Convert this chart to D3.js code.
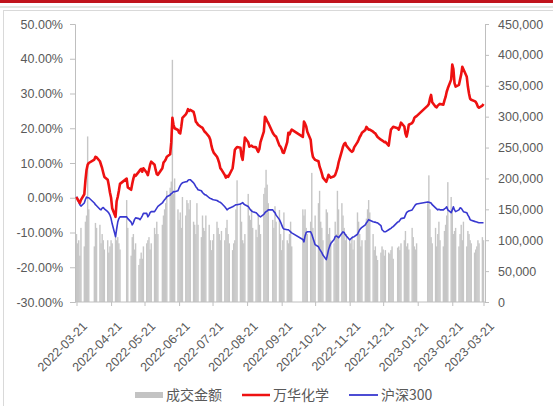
<!DOCTYPE html>
<html>
<head>
<meta charset="utf-8">
<title></title>
<script src="https://d3js.org/d3.v7.min.js"></script>
<style type="text/css">
  body { margin: 0; background: #fff; }
  text { font-family: "Liberation Sans", Arial, "Noto Sans CJK SC", sans-serif; fill: #595959; }
  .legend text { font-family: "Noto Sans CJK SC", sans-serif; font-size: 14px; }
</style>
</head>
<body>
<script type="text/javascript">

var width = 553,
    height = 406;

// non-trading weekdays in the period
var holidays = ["2022-04-04","2022-04-05","2022-05-02","2022-05-03","2022-05-04",
  "2022-06-03","2022-09-12","2022-10-03","2022-10-04","2022-10-05","2022-10-06",
  "2022-10-07","2023-01-02","2023-01-23","2023-01-24","2023-01-25","2023-01-26",
  "2023-01-27"];

var tickDates = ["2022-03-21","2022-04-21","2022-05-21","2022-06-21","2022-07-21",
  "2022-08-21","2022-09-21","2022-10-21","2022-11-21","2022-12-21","2023-01-21",
  "2023-02-21","2023-03-21"];

var pctTicks = [50, 40, 30, 20, 10, 0, -10, -20, -30];
var volTicks = [0, 50000, 100000, 150000, 200000, 250000, 300000, 350000, 400000, 450000];

// 万华化学 cumulative return (%), one row per week
var wanhua = [
  0.2, -0.5, -1.0, -1.5, -0.6,
  1.0, 5.0, 8.0, 9.5, 10.0,
  11.0, 11.8, 11.6,
  10.5, 9.5, 8.5, 7.2, 6.0,
  5.2, 3.5, 1.5, 0.0, -3.0,
  -5.5, -1.0, 0.3, 2.0, 4.0,
  5.5, 3.0,
  2.3, 4.0, 5.5, 6.6, 6.3,
  7.5, 8.0, 8.3, 7.5, 8.5,
  7.2, 6.5, 8.0, 9.5, 10.4,
  9.5, 8.0, 6.8, 6.6,
  8.5, 10.1, 10.5, 11.0, 11.8,
  12.5, 16.0, 23.0, 21.0, 20.0,
  19.5, 18.7, 18.5, 20.5, 23.0,
  24.0, 24.6, 25.5, 25.0, 25.3,
  24.7, 23.5, 21.9, 21.5, 21.0,
  20.3, 20.1, 19.5, 19.0, 18.7,
  17.5, 16.7, 15.0, 13.8, 13.0,
  11.8, 11.0, 10.0, 8.5, 8.1,
  6.5, 5.8, 6.3, 6.0, 6.6,
  8.5, 11.0, 13.8, 14.2, 14.6,
  14.4, 12.0, 10.9, 14.0, 17.3,
  16.0, 14.7, 14.9, 15.0, 14.7,
  14.5, 13.8, 13.2, 14.0, 16.0,
  19.0, 23.3, 22.8, 22.0, 21.5,
  18.7, 18.2, 17.8, 17.6,
  15.0, 14.7, 14.0, 13.0, 12.9,
  16.0, 18.7, 18.2, 19.0, 19.6,
  17.5, 21.9, 21.3, 20.5, 19.0,
  16.7, 13.5, 11.8, 11.3, 10.9,
  10.5, 9.0, 8.1, 7.0, 5.8,
  4.6, 5.5, 6.6, 6.2, 5.8,
  6.2, 6.6, 7.5, 8.5, 10.1,
  13.5, 14.7, 15.5, 15.8, 15.0,
  13.8, 13.5, 13.2, 13.5, 14.5,
  16.0, 16.7, 17.5, 18.0, 18.7,
  19.5, 20.4, 20.0, 19.6, 19.6,
  19.0, 18.7, 18.5, 18.0, 17.5,
  16.7, 16.5, 16.3, 16.0, 16.1,
  15.0, 17.5, 19.6, 20.0, 20.4,
  20.0, 19.6, 20.5, 21.6,
  20.5, 18.5, 17.6, 19.0, 21.0,
  21.5, 22.0, 23.0, 23.3, 23.5,
  26.5, 27.0, 28.5, 29.6, 27.5,
  26.2, 26.0, 26.5, 26.8, 27.0,
  26.8, 28.0, 29.0, 30.5, 31.5,
  34.0, 38.3, 37.0, 33.0, 32.0,
  32.5, 34.0, 35.5, 37.7, 37.0,
  34.8, 32.0, 30.0, 28.5, 28.2,
  27.8, 27.6, 27.0, 26.2, 25.9,
  26.5, 27.0
];

// 沪深300 cumulative return (%)
var hs300 = [
  0.3, -0.3, -1.2, -2.0, -2.4,
  -1.5, -0.5, 0.2, 0.0, 0.0,
  -1.5, -2.0, -2.3,
  -3.3, -3.5, -3.0, -2.8, -3.2,
  -4.0, -4.4, -5.0, -6.0, -7.5,
  -11.2, -9.0, -7.0, -6.0, -5.5,
  -5.5, -6.0,
  -7.0, -7.8, -7.2, -6.3, -5.8,
  -6.0, -6.3, -5.8, -5.2, -4.5,
  -4.5, -5.5, -5.0, -4.3, -4.0,
  -4.0, -3.5, -3.0, -2.5,
  -1.5, -1.0, -0.6, -0.2, 0.3,
  0.8, 1.2, 1.4, 1.8, 1.7,
  2.0, 2.8, 3.5, 4.0, 4.3,
  4.6, 4.6, 5.0, 5.2, 5.2,
  4.3, 3.8, 3.2, 2.8, 2.3,
  2.0, 1.5, 1.2, 0.9, 0.8,
  0.0, -0.2, -0.3, -0.5, -0.6,
  -0.8, -1.0, -1.2, -1.3, -1.6,
  -2.6, -3.0, -3.5, -3.2, -3.0,
  -2.6, -2.4, -2.2, -2.0, -2.0,
  -1.8, -1.6, -1.4, -1.8, -2.0,
  -2.5, -3.0, -3.5, -3.8, -4.0,
  -4.3, -4.6, -5.0, -5.3, -5.5,
  -4.8, -4.3, -4.0, -3.8, -3.5,
  -3.5, -4.0, -4.3, -5.0,
  -6.3, -7.0, -7.8, -8.6, -9.0,
  -9.2, -9.2, -9.5, -9.8, -10.1,
  -12.0, -12.7, -11.0, -10.0, -9.8,
  -9.8, -10.5, -11.5, -12.5, -13.5,
  -14.1, -14.8, -15.3, -15.8, -16.5,
  -17.8, -16.5, -15.0, -14.0, -13.2,
  -12.0, -11.2, -11.0, -11.2, -11.5,
  -10.2, -9.8, -10.0, -10.6, -11.0,
  -12.1, -11.8, -11.5, -11.3, -11.2,
  -10.5, -9.8, -9.2, -8.8, -8.5,
  -7.8, -7.2, -6.8, -6.3, -6.5,
  -6.9, -7.0, -7.0, -7.2, -7.2,
  -8.0, -9.2, -9.5, -9.8, -9.8,
  -9.2, -9.0, -8.8, -8.5, -8.3,
  -7.0, -6.9, -6.5, -6.0,
  -5.8, -5.0, -4.3, -4.0, -3.8,
  -3.5, -3.0, -2.5, -2.0, -1.8,
  -1.2, -1.3, -1.4, -1.5, -2.0,
  -2.9, -3.2, -3.5, -3.3, -3.5,
  -3.5, -3.2, -3.0, -2.6, -3.5,
  -4.3, -3.5, -2.6, -3.5, -4.0,
  -3.5, -2.9, -3.0, -3.5, -4.0,
  -4.3, -5.0, -5.5, -6.3, -6.5,
  -6.8, -6.9, -7.0, -7.1, -7.2,
  -7.2, -7.2
];

// 成交金额
var volume = [
  110000, 95000, 100000, 75000, 120000,
  90000, 130000, 140000, 268000, 150000,
  90000, 128000, 120000,
  125000, 95000, 110000, 100000, 85000,
  100000, 80000, 90000, 100000, 95000,
  110000, 100000, 105000, 95000, 85000,
  165000, 120000,
  75000, 105000, 110000, 85000, 95000,
  60000, 70000, 80000, 70000, 90000,
  95000, 100000, 105000, 85000, 95000,
  120000, 110000, 130000, 110000,
  125000, 140000, 150000, 160000, 180000,
  185000, 195000, 392000, 175000, 200000,
  150000, 133000, 145000, 120000, 170000,
  140000, 165000, 160000, 150000, 165000,
  130000, 125000, 110000, 160000, 125000,
  105000, 140000, 120000, 115000, 140000,
  125000, 100000, 84000, 100000, 110000,
  130000, 120000, 110000, 100000, 115000,
  100000, 120000, 133000, 110000, 95000,
  84000, 95000, 100000, 150000, 197000,
  160000, 130000, 100000, 95000, 110000,
  175000, 140000, 133000, 150000, 120000,
  117000, 105000, 140000, 125000, 110000,
  175000, 185000, 214000, 190000, 160000,
  133000, 120000, 155000, 130000,
  149000, 110000, 84000, 100000, 145000,
  100000, 95000, 110000, 130000, 90000,
  150000, 140000, 150000, 120000, 110000,
  130000, 209000, 120000, 100000, 140000,
  160000, 180000, 130000, 120000, 100000,
  150000, 145000, 110000, 120000, 100000,
  95000, 130000, 110000, 180000, 150000,
  160000, 140000, 120000, 100000, 110000,
  100000, 95000, 105000, 85000, 100000,
  145000, 130000, 110000, 90000, 100000,
  100000, 135000, 150000, 165000, 145000,
  110000, 84000, 90000, 75000, 68000,
  80000, 90000, 85000, 75000, 84000,
  80000, 78000, 84000, 90000, 70000,
  88000, 90000, 84000, 95000,
  100000, 115000, 90000, 95000, 85000,
  120000, 105000, 90000, 85000, 95000,
  160000, 205000, 150000, 105000, 95000,
  120000, 90000, 110000, 130000, 100000,
  90000, 115000, 125000, 140000, 194000,
  170000, 150000, 110000, 115000, 120000,
  90000, 110000, 125000, 100000, 130000,
  90000, 115000, 110000, 100000, 95000,
  80000, 85000, 90000, 100000, 95000,
  105000, 100000
];

var parse = d3.timeParse("%Y-%m-%d");
var fmtDay = d3.timeFormat("%Y-%m-%d");

// trading calendar
var days = d3.timeDay.range(parse("2022-03-21"), d3.timeDay.offset(parse("2023-03-21"), 1))
  .filter(function(d) {
    var w = d.getDay();
    return w !== 0 && w !== 6 && holidays.indexOf(fmtDay(d)) < 0;
  });

var n = Math.min(days.length, wanhua.length, hs300.length, volume.length);
console.log(days.length, wanhua.length, hs300.length, volume.length);

var data = [];
for (var i = 0; i < n; i++) {
  data.push({ date: days[i], wh: wanhua[i], hs: hs300[i], vol: volume[i] });
}

var svg = d3.select("body").append("svg")
  .attr("width", width)
  .attr("height", height);

// frame
svg.append("rect").attr("x", 0).attr("y", 0).attr("width", width).attr("height", 3).attr("fill", "#c0141c");
svg.append("line").attr("x1", 0).attr("x2", width).attr("y1", 7).attr("y2", 7)
  .attr("stroke", "#e3e8e3").attr("stroke-width", 2);
svg.append("rect").attr("x", 3.5).attr("y", 10.5).attr("width", width - 3).attr("height", height)
  .attr("fill", "none").attr("stroke", "#d9d9d9");

var x = d3.scaleTime()
  .domain([parse("2022-03-21"), parse("2023-03-21")])
  .range([76.5, 483.5]);

var yPct = d3.scaleLinear().domain([-30, 50]).range([302, 24]);
var yVol = d3.scaleLinear().domain([0, 450000]).range([302, 24]);

// volume bars
svg.append("g").selectAll("rect")
  .data(data)
  .enter().append("rect")
  .attr("x", function(d) { return x(d.date) - 0.7; })
  .attr("width", 1.4)
  .attr("y", function(d) { return yVol(d.vol); })
  .attr("height", function(d) { return yVol(0) - yVol(d.vol); })
  .attr("fill", "#c6c6c6");

// axes
var fmtPct = function(v) { return (v < 0 ? "-" : "") + Math.abs(v).toFixed(2) + "%"; };

var leftAxis = d3.axisLeft(yPct).tickValues(pctTicks).tickFormat(fmtPct)
  .tickSize(5).tickPadding(7);
var gl = svg.append("g").attr("transform", "translate(75,0)").call(leftAxis);

var rightAxis = d3.axisRight(yVol).tickValues(volTicks).tickFormat(d3.format(","))
  .tickSize(4).tickPadding(9);
var gr = svg.append("g").attr("transform", "translate(485,0)").call(rightAxis);

var bottomAxis = d3.axisBottom(x).tickValues(tickDates.map(parse)).tickFormat(d3.timeFormat("%Y-%m-%d"))
  .tickSize(4).tickSizeOuter(0);
var gb = svg.append("g").attr("transform", "translate(0,302)").call(bottomAxis);
gb.selectAll("text")
  .attr("text-anchor", "end")
  .attr("dy", "0.35em")
  .attr("transform", "translate(3,17) rotate(-45)");

[gl, gr, gb].forEach(function(g) {
  g.selectAll("path, line").attr("stroke", "#bfbfbf");
  g.selectAll("text").style("font-size", "12.5px").attr("fill", "#595959");
});
gb.select(".domain").attr("d", "M75,0H485");

// lines
var lineHs = d3.line().x(function(d) { return x(d.date); }).y(function(d) { return yPct(d.hs); });
var lineWh = d3.line().x(function(d) { return x(d.date); }).y(function(d) { return yPct(d.wh); });

svg.append("path").datum(data)
  .attr("d", lineHs)
  .attr("fill", "none")
  .attr("stroke", "#3838d0")
  .attr("stroke-width", 1.6)
  .attr("stroke-linejoin", "round");

svg.append("path").datum(data)
  .attr("d", lineWh)
  .attr("fill", "none")
  .attr("stroke", "#ee1111")
  .attr("stroke-width", 2.6)
  .attr("stroke-linejoin", "round");

// legend
var legend = svg.append("g").attr("class", "legend");
legend.append("rect").attr("x", 135).attr("y", 392).attr("width", 28).attr("height", 6).attr("fill", "#c3c3c3");
legend.append("text").attr("x", 166).attr("y", 395).attr("dy", "0.35em").text("成交金额");
legend.append("line").attr("x1", 242).attr("x2", 270).attr("y1", 395).attr("y2", 395)
  .attr("stroke", "#ee1111").attr("stroke-width", 2.5);
legend.append("text").attr("x", 273).attr("y", 395).attr("dy", "0.35em").text("万华化学");
legend.append("line").attr("x1", 349).attr("x2", 378).attr("y1", 395).attr("y2", 395)
  .attr("stroke", "#3838d0").attr("stroke-width", 1.8);
legend.append("text").attr("x", 381).attr("y", 395).attr("dy", "0.35em").text("沪深300");

</script>
</body>
</html>
